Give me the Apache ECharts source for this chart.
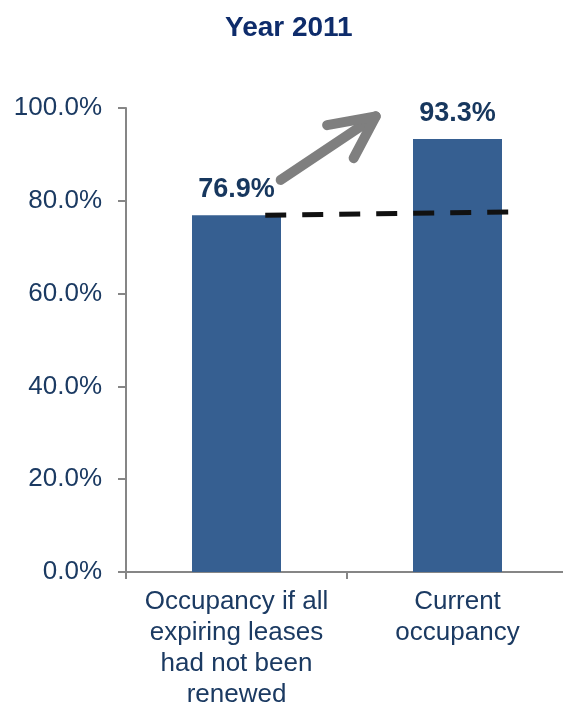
<!DOCTYPE html>
<html>
<head>
<meta charset="utf-8">
<script src="https://cdn.jsdelivr.net/npm/echarts@6/dist/echarts.min.js"></script>
<style>
  html, body { margin: 0; padding: 0; background: #fff; }
  #chart { width: 563px; height: 706px; }
</style>
</head>
<body>
<div id="chart"></div>
<script>
// Occupancy categories and values (percent)
const categories = [
  'Occupancy if all\nexpiring leases\nhad not been\nrenewed',
  'Current\noccupancy'
];
const occupancy = [76.9, 93.3];
const yTicks = { min: 0, max: 100, step: 20 };

// Dashed reference level, in [category position, percent] (position 0..2 across the axis)
const baseline = [[0.63, 76.9], [1.73, 77.6]];
// Upward arrow: shaft and head, same coordinate system
const arrowShaft = [[0.70, 84.5], [1.13, 98.2]];
const arrowHead = [[0.91, 96.3], [1.13, 98.2], [1.03, 89.2]];

const FONT = '"Liberation Sans", Arial, sans-serif';
const NAVY = '#1B3A62';

const chart = echarts.init(document.getElementById('chart'), null, { renderer: 'canvas' });

chart.setOption({
  animation: false,
  backgroundColor: '#ffffff',
  title: {
    text: 'Year 2011',
    left: 220,
    top: 9,
    textStyle: { fontFamily: FONT, fontSize: 28, fontWeight: 'bold', color: '#0E2C6B' }
  },
  grid: {
    left: 126, right: -5, top: 108, bottom: 134,
    containLabel: false, outerBoundsMode: 'none'
  },
  xAxis: [
    {
      type: 'category',
      data: categories,
      axisLine: { lineStyle: { color: '#868686', width: 2 } },
      axisTick: { show: true, length: 7, lineStyle: { color: '#868686', width: 2 } },
      axisLabel: {
        interval: 0, margin: 14, fontFamily: FONT, fontSize: 26,
        lineHeight: 31, color: NAVY, align: 'center'
      }
    },
    { type: 'value', min: 0, max: 2, show: false }
  ],
  yAxis: [
    {
      type: 'value',
      min: yTicks.min, max: yTicks.max, interval: yTicks.step,
      splitLine: { show: false },
      axisLine: { show: true, lineStyle: { color: '#868686', width: 2 } },
      axisTick: { show: true, length: 8, lineStyle: { color: '#868686', width: 2 } },
      axisLabel: {
        margin: 24, fontFamily: FONT, fontSize: 26, color: NAVY,
        formatter: v => v.toFixed(1) + '%'
      }
    }
  ],
  series: [
    {
      type: 'bar',
      data: occupancy,
      barWidth: 89,
      itemStyle: { color: '#365F91' },
      label: {
        show: true, position: 'top', distance: 12,
        fontFamily: FONT, fontSize: 27, fontWeight: 'bold', color: '#17375E',
        formatter: p => p.value.toFixed(1) + '%'
      },
      z: 2
    },
    {
      type: 'line',
      xAxisIndex: 1,
      data: baseline,
      symbol: 'none',
      lineStyle: { color: '#111111', width: 5, type: [21, 16] },
      z: 5
    },
    {
      type: 'line',
      xAxisIndex: 1,
      data: arrowShaft,
      symbol: 'none',
      lineStyle: { color: '#7F7F7F', width: 10, cap: 'round' },
      z: 6
    },
    {
      type: 'line',
      xAxisIndex: 1,
      data: arrowHead,
      symbol: 'none',
      lineStyle: { color: '#7F7F7F', width: 10, cap: 'round', join: 'round' },
      z: 6
    }
  ]
});
</script>
</body>
</html>
